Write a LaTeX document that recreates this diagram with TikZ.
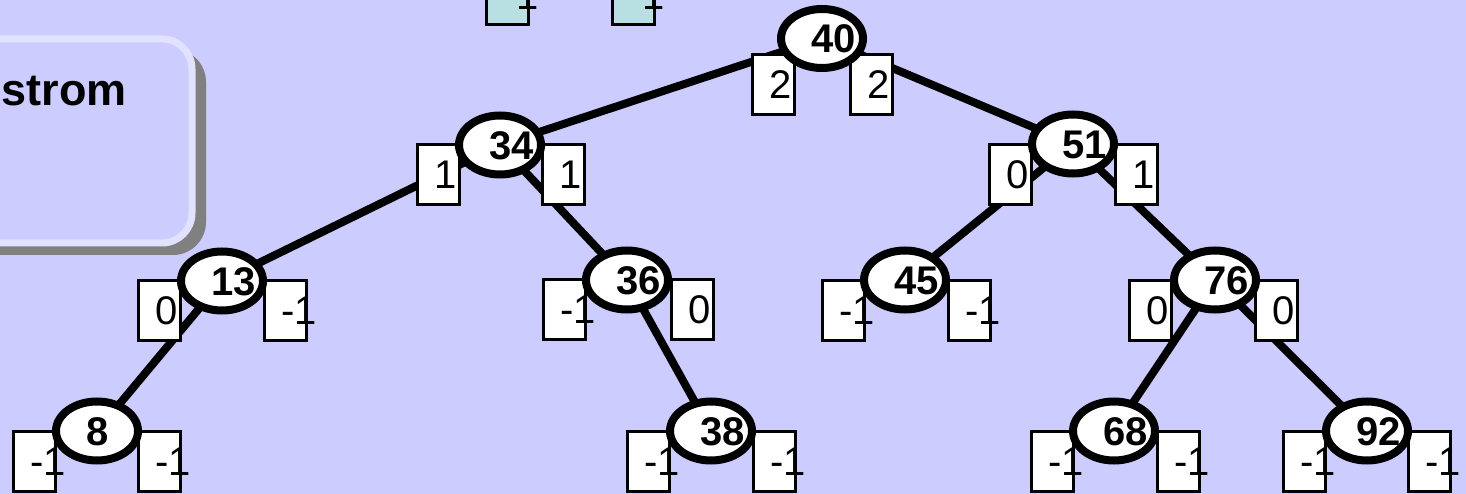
\documentclass[tikz,border=0pt]{standalone}
\usepackage{fontspec}
\setmainfont{Liberation Sans}
\usetikzlibrary{shapes.geometric}
\pgfdeclarelayer{edgelayer}
\pgfdeclarelayer{boxlayer}
\pgfdeclarelayer{toplayer}
\pgfsetlayers{edgelayer,boxlayer,main,toplayer}
\definecolor{bgcol}{HTML}{CCCCFF}
\definecolor{framecol}{HTML}{E2E2FF}
\definecolor{shadowcol}{HTML}{808080}
\definecolor{tealcol}{HTML}{B8E0E2}
\tikzset{
  balbox/.style={draw=black, line width=3pt, fill=white, minimum width=42pt, minimum height=60pt, inner sep=0pt, outer sep=0pt},
  tealbox/.style={balbox, fill=tealcol},
  keynode/.style={ellipse, draw=black, line width=8pt, fill=white, minimum width=82pt, minimum height=59pt, inner sep=0pt},
  keytext/.style={inner sep=0pt, outer sep=0pt, font=\fontsize{40}{48}\selectfont\bfseries},
  paneltextstyle/.style={inner sep=0pt, outer sep=0pt, font=\fontsize{45}{54}\selectfont\bfseries},
  baltext/.style={inner sep=0pt, outer sep=0pt, font=\fontsize{40}{48}\selectfont},
  edge/.style={draw=black, line width=8pt},
}
\newcommand{\avlnode}[9]{%
  \begin{pgfonlayer}{boxlayer}
    \node[balbox, anchor=north west] (#1l) at (#5+1.5,#7+1.5) {};
    \node[balbox, anchor=north west] (#1r) at (#6+1.5,#7+1.5) {};
  \end{pgfonlayer}
  \node[keynode] (#1) at (#2,#3) {};
  \node[keytext, anchor=base west] (#1k) at (#2-11,#3+14.3) {#4};
  \begin{pgfonlayer}{toplayer}
    \node[baltext, anchor=base west] (#1lt) at (#5+18,#7+45.8) {#8};
    \node[baltext, anchor=base west] (#1rt) at (#6+18,#7+45.8) {#9};
  \end{pgfonlayer}
}
\begin{document}
\begin{tikzpicture}[x=1pt,y=-1pt]
  \useasboundingbox (0,0) rectangle (1466,494);
  \begin{pgfonlayer}{edgelayer}
    \fill[bgcol] (0,0) rectangle (1466,494);
    % framed panel with shadow
    \fill[shadowcol, rounded corners=33pt] (-90,49) rectangle (206,255);
    \draw[framecol, fill=bgcol, line width=7pt, rounded corners=30pt] (-100,39) rectangle (192,243);
    \node[paneltextstyle, anchor=base east] (paneltext) at (127,106) {strom};
  \end{pgfonlayer}

  % boxes of the cut-off tree above
  \begin{pgfonlayer}{boxlayer}
    \node[tealbox, anchor=north west] (t1) at (486.5,-35.5) {};
    \node[tealbox, anchor=north west] (t2) at (612.5,-35.5) {};
  \end{pgfonlayer}
  \begin{pgfonlayer}{toplayer}
    \node[baltext, anchor=base west] (t1t) at (503,10) {-1};
    \node[baltext, anchor=base west] (t2t) at (629,10) {-1};
  \end{pgfonlayer}

  \avlnode{n40}{822}{38.5}{40}{751}{849}{53}{2}{2}
  \avlnode{n34}{500}{145}{34}{416}{541}{143}{1}{1}
  \avlnode{n51}{1073}{144}{51}{988}{1114}{143}{0}{1}
  \avlnode{n13}{222}{281}{13}{137}{263}{279}{0}{-1}
  \avlnode{n36}{627}{280}{36}{542}{670}{278}{-1}{0}
  \avlnode{n45}{905}{280}{45}{821}{947}{279}{-1}{-1}
  \avlnode{n76}{1215}{280}{76}{1128}{1254}{279}{0}{0}
  \avlnode{n8}{97}{431}{8}{12}{137}{430}{-1}{-1}
  \avlnode{n38}{711}{431}{38}{626}{752}{430}{-1}{-1}
  \avlnode{n68}{1114}{431}{68}{1030}{1156}{430}{-1}{-1}
  \avlnode{n92}{1367}{431}{92}{1282}{1407}{430}{-1}{-1}

  \begin{pgfonlayer}{edgelayer}
    \draw[edge] (n40.center) -- (n34.center);
    \draw[edge] (n40.center) -- (n51.center);
    \draw[edge] (n34.center) -- (n13.center);
    \draw[edge] (n34.center) -- (n36.center);
    \draw[edge] (n51.center) -- (n45.center);
    \draw[edge] (n51.center) -- (n76.center);
    \draw[edge] (n13.center) -- (n8.center);
    \draw[edge] (n36.center) -- (n38.center);
    \draw[edge] (n76.center) -- (n68.center);
    \draw[edge] (n76.center) -- (n92.center);
  \end{pgfonlayer}
\end{tikzpicture}
\end{document}
